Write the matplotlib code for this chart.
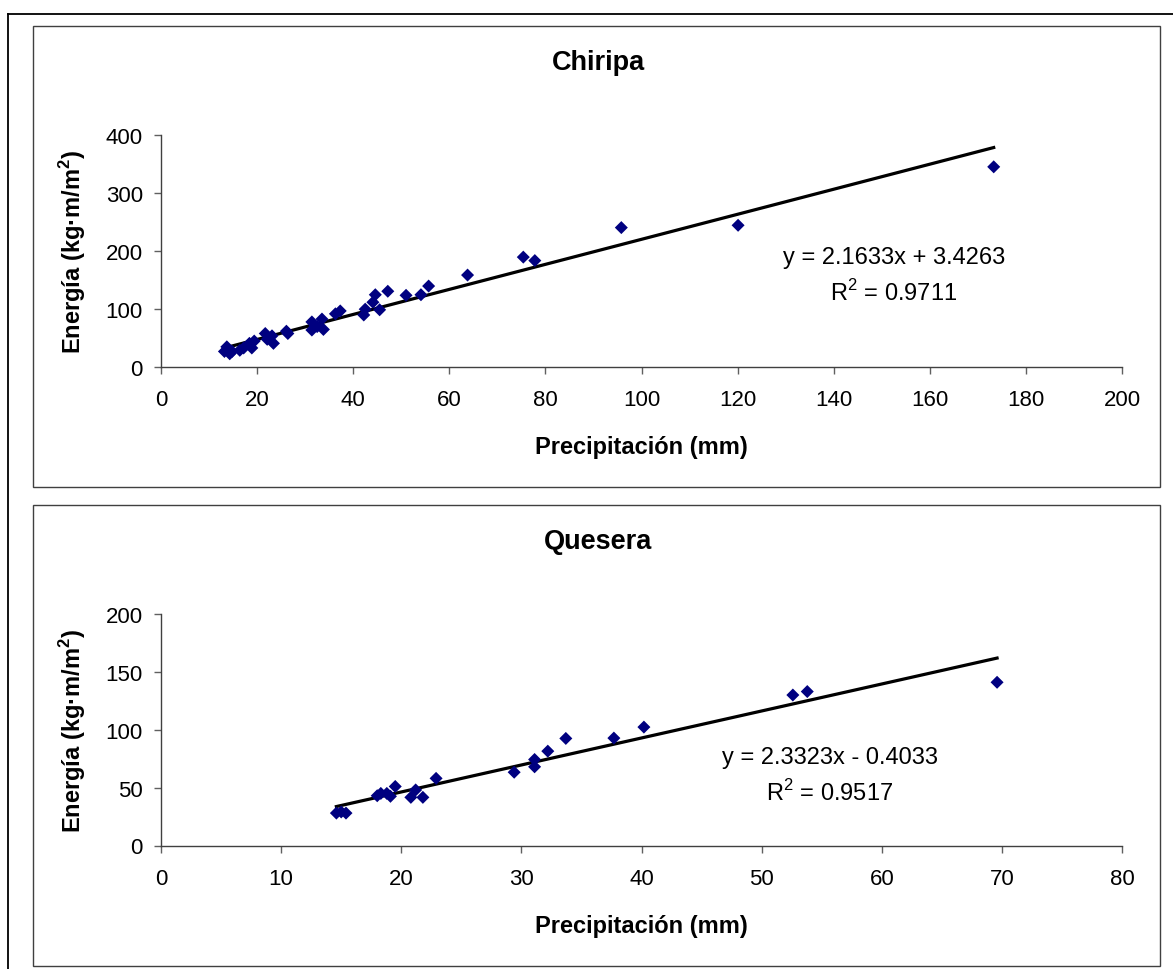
import numpy as np
import matplotlib
matplotlib.use('Agg')
import matplotlib.pyplot as plt
from matplotlib.lines import Line2D
from matplotlib.patches import Rectangle

plt.rcParams['font.family'] = ['Liberation Sans', 'DejaVu Sans']

# Chiripa station
chiripa_x = [13.2, 13.7, 14.3, 14.8, 16.4, 17.2, 18.4, 18.9, 19.4, 21.7, 22.1, 23.1, 23.4,
             26.1, 26.4, 31.4, 31.4, 32.5, 33.5, 33.8, 36.3, 37.3, 42.2, 42.5, 44.1, 44.6,
             45.5, 47.2, 51.0, 54.1, 55.7, 63.8, 75.4, 77.8, 95.8, 120.1, 173.3]
chiripa_y = [26, 34, 22, 26, 28, 32, 40, 32, 44, 57, 47, 53, 40,
             61, 57, 77, 63, 69, 82, 64, 91, 96, 89, 99, 111, 124,
             98, 130, 123, 124, 139, 158, 189, 183, 240, 244, 345]

# Quesera station
quesera_x = [14.6, 15.0, 15.4, 18.0, 18.3, 18.8, 19.1, 19.5, 20.8, 21.2, 21.8, 22.9,
             29.4, 31.1, 31.1, 32.2, 33.7, 37.7, 40.2, 52.6, 53.8, 69.6]
quesera_y = [28, 29, 28, 43, 45, 45, 42.5, 51, 41.6, 48, 41.6, 58,
             63.3, 74.3, 68, 81.5, 92.5, 92.8, 102.3, 130, 133, 141]

titles = ['Chiripa', 'Quesera']
slopes = [2.1633, 2.3323]
intercepts = [3.4263, -0.4033]
eq_labels = ['y = 2.1633x + 3.4263', 'y = 2.3323x - 0.4033']
r2_labels = ['R$^2$ = 0.9711', 'R$^2$ = 0.9517']
xlims = [200, 80]
ylims = [400, 200]
xticks = [np.arange(0, 201, 20), np.arange(0, 81, 10)]
yticks = [np.arange(0, 401, 100), np.arange(0, 201, 50)]
eq_pos = [(152.5, 188.7, 128.2), (55.7, 76.2, 46.5)]

plt.rcParams['mathtext.fontset'] = 'custom'
plt.rcParams['mathtext.rm'] = 'Liberation Sans'
plt.rcParams['mathtext.bf'] = 'Liberation Sans:bold'

W, H = 1173, 970
fig = plt.figure(figsize=(W / 100, H / 100), dpi=100)

def fx(px):
    return px / W

def fy(py):
    return 1 - py / H

# outer border (only top and left visible)
fig.add_artist(Line2D([fx(8), 1], [fy(15), fy(15)], color='black', lw=1.3))
fig.add_artist(Line2D([fx(8), fx(8)], [fy(15), 0], color='black', lw=1.3))

datasets = [(chiripa_x, chiripa_y), (quesera_x, quesera_y)]
offset = 479

for i, (xs, ys) in enumerate(datasets):
    dy = i * offset
    # panel frame
    fig.add_artist(Rectangle((fx(33), fy(488 + dy)), fx(1160 - 33), (461) / H,
                             fill=False, ec='#404040', lw=1.0))
    fig.text(fx(598), fy(63 + dy), titles[i], ha='center', va='center',
             fontsize=19.5, fontweight='bold')

    ax = fig.add_axes([fx(161), fy(367.5 + dy), fx(1122 - 161), 231.5 / H])
    ax.scatter(xs, ys, marker='D', s=44, color='#000080', edgecolors='none', zorder=3)
    xx = np.array([min(xs), max(xs)])
    ax.plot(xx, slopes[i] * xx + intercepts[i], color='black', lw=2.3, zorder=2)

    ax.set_xlim(0, xlims[i])
    ax.set_ylim(0, ylims[i])
    ax.set_xticks(xticks[i])
    ax.set_yticks(yticks[i])
    ax.spines['top'].set_visible(False)
    ax.spines['right'].set_visible(False)
    for s in ['left', 'bottom']:
        ax.spines[s].set_color('#404040')
        ax.spines[s].set_linewidth(1.0)
    ax.tick_params(axis='both', direction='out', length=5, width=1, color='#606060',
                   labelsize=16)
    ax.tick_params(axis='x', pad=11)
    ax.tick_params(axis='y', pad=8)

    ax.set_xlabel('Precipitación (mm)', fontsize=17, fontweight='bold')
    ax.set_ylabel(r'Energía (kg·m/m$^\mathbf{2}$)', fontsize=17, fontweight='bold')
    ax.xaxis.set_label_coords(0.5, -0.295)
    ax.yaxis.set_label_coords(-0.076, 0.5)

    ex, ey1, ey2 = eq_pos[i]
    ax.text(ex, ey1, eq_labels[i], ha='center', va='center', fontsize=17)
    ax.text(ex, ey2, r2_labels[i], ha='center', va='center', fontsize=17)

fig.savefig('out.png', dpi=100)
